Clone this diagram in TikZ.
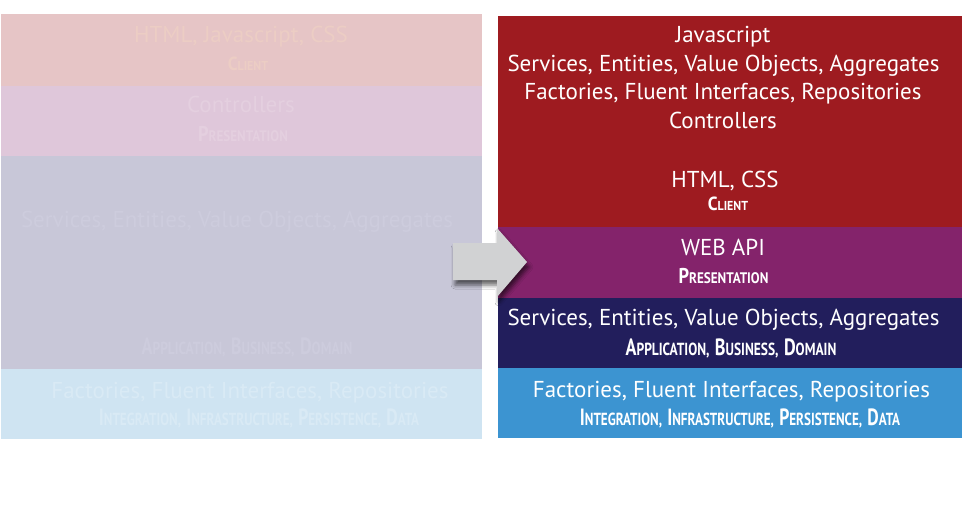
\documentclass[tikz,border=0pt]{standalone}
\usepackage{fontspec}
\setmainfont{PT Sans}
\usepackage{graphicx}
\usetikzlibrary{shadows.blur}
\definecolor{rClient}{HTML}{9E1B20}
\definecolor{rPres}{HTML}{84236B}
\definecolor{rDom}{HTML}{221E5C}
\definecolor{rData}{HTML}{3C94D1}
\definecolor{lClient}{HTML}{E6C5C6}
\definecolor{lPres}{HTML}{DFC7DA}
\definecolor{lDom}{HTML}{C8C7D8}
\definecolor{lData}{HTML}{CFE4F2}
\definecolor{tClient}{HTML}{ECCDC4}
\definecolor{tPres}{HTML}{E4CFDF}
\definecolor{tDom}{HTML}{CDCCDD}
\definecolor{tData}{HTML}{D9EAF5}
\definecolor{arrowgrey}{HTML}{D1D2D3}
\newcommand\bigtxt{\fontsize{23}{23}\selectfont}
\def\bigsz{17}\def\smsz{14}
\newcommand\SCw[2]{{\fontsize{\bigsz}{\bigsz}\selectfont #1}{\fontsize{\smsz}{\smsz}\selectfont #2}}
\newcommand\sps{\hspace{7pt}}
\newcommand\SClab[4]{\def\bigsz{#2}\def\smsz{#3}\scalebox{#1}[1]{\bfseries #4}}
\newcommand\LabClient{\SClab{0.92}{19}{13}{\SCw{C}{LIENT}}}
\newcommand\LabPres{\SClab{0.86}{21.4}{15.3}{\SCw{P}{RESENTATION}}}
\newcommand\LabDom{\SClab{0.77}{23.5}{17.5}{\SCw{A}{PPLICATION,}\sps\SCw{B}{USINESS,}\sps\SCw{D}{OMAIN}}}
\newcommand\LabData{\SClab{0.75}{23.5}{17.5}{\SCw{I}{NTEGRATION,}\sps\SCw{I}{NFRASTRUCTURE,}\sps\SCw{P}{ERSISTENCE,}\sps\SCw{D}{ATA}}}
\tikzset{
  mainline/.style={anchor=base, inner sep=0pt, font=\bigtxt},
  sclabel/.style={anchor=base, inner sep=0pt},
}
\begin{document}
\begin{tikzpicture}[x=1pt,y=-1pt]
\useasboundingbox[fill=white] (0,0) rectangle (964,524);
% left faded panel
\fill[lClient] (1,14) rectangle (482,86);
\fill[lPres] (1,86) rectangle (482,156);
\fill[lDom] (1,156) rectangle (482,369);
\fill[lData] (1,369) rectangle (482,439);
\node[mainline, text=tClient] (lc1) at (241,43) {HTML, Javascript, CSS};
\node[sclabel, text=tClient] (lc2) at (248,71) {\LabClient};
\node[mainline, text=tPres] (lp1) at (241,113) {Controllers};
\node[sclabel, text=tPres] (lp2) at (243,142) {\LabPres};
\node[mainline, text=tDom] (ld1) at (237,227) {Services, Entities, Value Objects, Aggregates};
\node[sclabel, text=tDom] (ld2) at (247,354) {\LabDom};
\node[mainline, text=tData] (la1) at (250,398) {Factories, Fluent Interfaces, Repositories};
\node[sclabel, text=tData] (la2) at (259,425) {\LabData};
% right panel
\fill[rClient] (498,16) rectangle (962,227);
\fill[rPres] (498,227) rectangle (962,298);
\fill[rDom] (498,298) rectangle (962,368);
\fill[rData] (498,368) rectangle (962,438);
\node[mainline, text=white] (rc1) at (723,43) {Javascript};
\node[mainline, text=white] (rc2) at (723.5,72) {Services, Entities, Value Objects, Aggregates};
\node[mainline, text=white] (rc3) at (723,100) {Factories, Fluent Interfaces, Repositories};
\node[mainline, text=white] (rc4) at (723,129) {Controllers};
\node[mainline, text=white] (rc5) at (725,187) {HTML, CSS};
\node[sclabel, text=white] (rc6) at (728,211) {\LabClient};
\node[mainline, text=white] (rp1) at (723,255) {WEB API};
\node[sclabel, text=white] (rp2) at (723.5,283) {\LabPres};
\node[mainline, text=white] (rd1) at (723.5,325) {Services, Entities, Value Objects, Aggregates};
\node[sclabel, text=white] (rd2) at (731,355) {\LabDom};
\node[mainline, text=white] (ra1) at (731.5,397) {Factories, Fluent Interfaces, Repositories};
\node[sclabel, text=white] (ra2) at (740,425) {\LabData};
% arrow
\fill[arrowgrey, blur shadow={shadow xshift=2pt, shadow yshift=-5pt, shadow opacity=60, shadow blur radius=4pt}]
  (453,243) -- (497,243) -- (497,228) -- (527,262) -- (497,297) -- (497,280) -- (453,280) -- cycle;
\end{tikzpicture}
\end{document}
